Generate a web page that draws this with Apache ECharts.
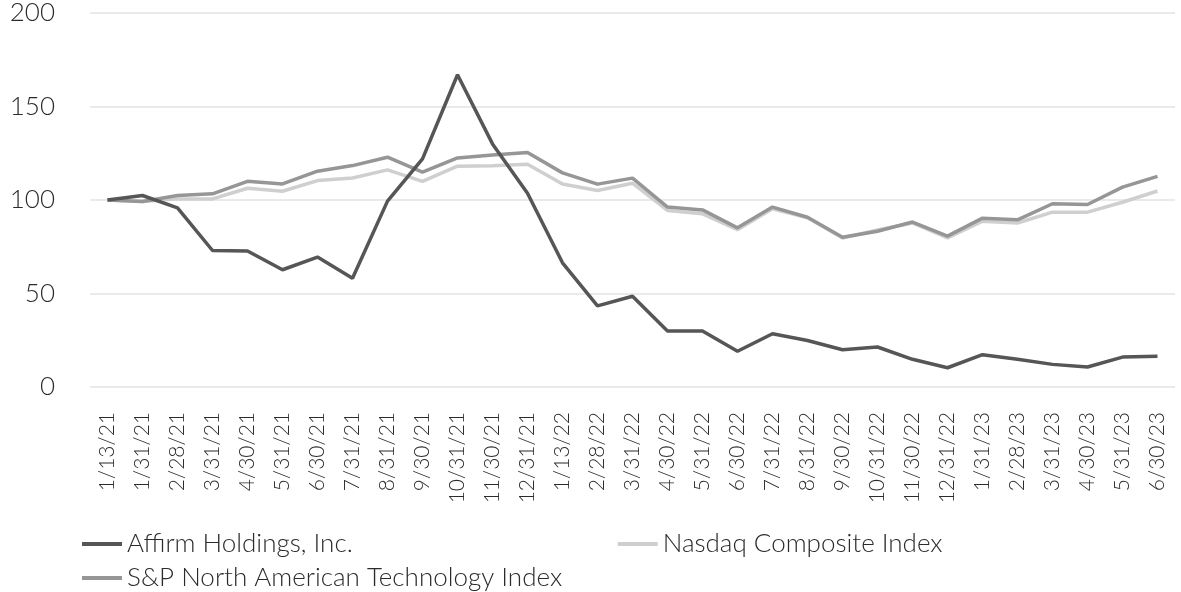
<!DOCTYPE html>
<html lang="en">

<head>
  <meta charset="UTF-8">
  <title>Affirm cumulative return</title>
  <script src="https://cdn.jsdelivr.net/npm/echarts@6.0.0/dist/echarts.min.js"></script>
  <style>
    html, body {
      margin: 0;
      background: #fff;
    }

    #chart {
      width: 1181px;
      height: 592px;
    }
  </style>
</head>

<body>
  <div id="chart"></div>

  <script>
    const dates = ['1/13/21', '1/31/21', '2/28/21', '3/31/21', '4/30/21', '5/31/21', '6/30/21', '7/31/21',
      '8/31/21', '9/30/21', '10/31/21', '11/30/21', '12/31/21', '1/13/22', '2/28/22', '3/31/22', '4/30/22',
      '5/31/22', '6/30/22', '7/31/22', '8/31/22', '9/30/22', '10/31/22', '11/30/22', '12/31/22', '1/31/23',
      '2/28/23', '3/31/23', '4/30/23', '5/31/23', '6/30/23']
    const affirm = [100, 102.4, 95.8, 73, 72.7, 62.7, 69.5, 58.2, 99.4, 122, 167, 130, 103.6, 66.4, 43.4,
      48.5, 29.9, 29.9, 19.1, 28.5, 24.9, 19.9, 21.4, 14.8, 10.3, 17.3, 14.8, 12.1, 10.7, 16, 16.4]
    const nasdaq = [100, 99.2, 100.6, 100.6, 106.3, 104.7, 110.4, 111.8, 116.1, 110, 118.1, 118.3, 119.1,
      108.6, 105.1, 109, 94.4, 92.6, 84.1, 95.3, 90.5, 79.7, 84, 87.7, 79.7, 88.7, 87.7, 93.5, 93.5, 98.8, 104.8]
    const snp = [100, 99.2, 102.4, 103.3, 110, 108.6, 115.4, 118.4, 122.9, 114.9, 122.5, 124.1, 125.4,
      114.5, 108.5, 111.7, 96.2, 94.7, 85.1, 96.2, 90.8, 80.1, 83.3, 88.2, 80.7, 90.3, 89.4, 98, 97.6, 106.9, 112.6]
    const yTicks = [0, 50, 100, 150, 200]

    const font = 'Lato, "Open Sans", sans-serif'
    const names = ['Affirm Holdings, Inc.', 'Nasdaq Composite Index', 'S&P North American Technology Index']
    const legendText = { fontFamily: font, fontSize: 26, fontWeight: 300, color: '#2b2b2b' }

    const myChart = echarts.init(document.getElementById('chart'))
    const option = {
      animation: false,
      grid: {
        left: 90,
        right: 6,
        top: 12,
        height: 375
      },
      legend: [{
          data: [names[0], names[1]],
          left: 77,
          top: 526,
          icon: 'rect',
          itemWidth: 40,
          itemHeight: 4,
          itemGap: 265,
          textStyle: legendText
        },
        {
          data: [names[2]],
          left: 77,
          top: 560,
          icon: 'rect',
          itemWidth: 40,
          itemHeight: 4,
          textStyle: legendText
        }
      ],
      xAxis: {
        type: 'category',
        data: dates,
        boundaryGap: true,
        axisLine: { show: false },
        axisTick: { show: false },
        axisLabel: {
          interval: 0,
          rotate: 90,
          margin: 25,
          fontFamily: font,
          fontSize: 21,
          fontWeight: 300,
          color: '#2b2b2b'
        }
      },
      yAxis: {
        type: 'value',
        min: yTicks[0],
        max: yTicks[yTicks.length - 1],
        interval: 50,
        axisLine: { show: false },
        axisTick: { show: false },
        axisLabel: {
          margin: 35,
          fontFamily: font,
          fontSize: 26,
          fontWeight: 300,
          color: '#2b2b2b'
        },
        splitLine: { lineStyle: { color: '#e3e3e3', width: 1.5 } }
      },
      series: [{
          name: names[1],
          type: 'line',
          data: nasdaq,
          symbol: 'none',
          color: '#cfcfcf',
          lineStyle: { width: 3.5 }
        },
        {
          name: names[2],
          type: 'line',
          data: snp,
          symbol: 'none',
          color: '#969696',
          lineStyle: { width: 3.5 }
        },
        {
          name: names[0],
          type: 'line',
          data: affirm,
          symbol: 'none',
          color: '#565656',
          lineStyle: { width: 3.5 }
        }
      ]
    }
    myChart.setOption(option)
  </script>
</body>

</html>
